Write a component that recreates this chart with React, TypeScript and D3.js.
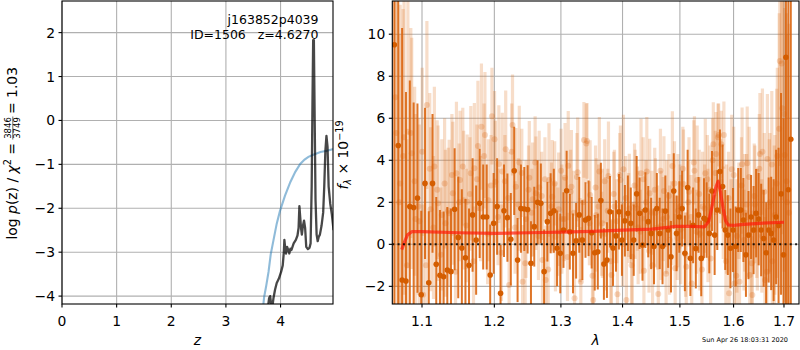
import React from "react";
import * as d3 from "d3";

// ---------- Left panel data: log p(z) ----------
const zBlue = [3.68, 3.70, 3.74, 3.78, 3.82, 3.87, 3.93, 3.99, 4.08, 4.18, 4.27, 4.36, 4.44, 4.51, 4.60, 4.73, 4.85, 4.97];
const pBlue = [-4.25, -4.02, -3.75, -3.45, -3.05, -2.73, -2.35, -2.06, -1.72, -1.40, -1.17, -0.99, -0.89, -0.83, -0.78, -0.72, -0.69, -0.65];

const zBlack = [3.77, 3.79, 3.81, 3.83, 3.85, 3.87, 3.90, 3.93, 3.97, 4.01, 4.04, 4.06, 4.07, 4.085, 4.10, 4.12, 4.14, 4.16, 4.18, 4.20, 4.24, 4.28, 4.31, 4.33, 4.345, 4.36, 4.375, 4.39, 4.41, 4.43, 4.45, 4.47, 4.50, 4.53, 4.55, 4.57, 4.585, 4.597, 4.61, 4.625, 4.64, 4.66, 4.68, 4.70, 4.72, 4.75, 4.78, 4.80, 4.82, 4.84, 4.86, 4.88, 4.91, 4.94, 4.97];
const pBlack = [-4.25, -4.05, -4.0, -4.2, -4.25, -4.05, -3.85, -3.7, -3.6, -3.45, -3.3, -3.0, -2.72, -2.9, -3.03, -2.88, -2.95, -3.03, -2.92, -2.95, -2.8, -2.72, -2.62, -2.45, -1.95, -2.2, -2.45, -2.6, -2.4, -2.28, -2.45, -2.88, -2.93, -2.9, -2.8, -1.5, 0.5, 1.83, 1.83, 0.0, -1.8, -2.6, -2.75, -2.65, -2.6, -2.4, -2.1, -1.5, -0.7, -0.35, -0.6, -1.5, -1.9, -2.15, -2.5];

const zTicks = [0, 1, 2, 3, 4];
const pTicks = [-4, -3, -2, -1, 0, 1, 2];

// ---------- Right panel data: spectrum ----------
const gridStep = 0.005;

const darkStart = 1.064;
const darkFlux = [
  9.5, 4.7, -1.7, -1.75, 1.8, 1.75, 2.2, -2.4, 2.9, -1.83,
  2.9, -0.95, -1.47, -1.54, -1.22, -1.3, 1.67, 0.33, -0.18, -0.64,
  -1.0, 1.4, 0.2, 1.95, 1.3, 1.3, -1.46, 1.0, 1.8, -2.33,
  1.6, 1.27, 0.24, 3.5, -0.75, 1.7, 1.68, 1.66, -0.9, 0.84,
  2.0, 1.95, -1.3, 1.08, 1.48, 1.6, -0.19, -0.43, 0.68, 2.55,
  0.6, -0.43, 0.17, 1.4, 0.2, 1.16, 1.24, 0.55, -0.4, -0.35,
  2.08, -0.94, -0.75, 1.55, -0.18, 0.4, 1.55, 0.2, 1.12, 1.48,
  1.0, 0.2, 2.4, 1.48, -0.03, 1.63, 1.08, 0.52, -0.1, 1.7,
  0.52, -0.1, 1.58, 0.68, -0.59, 2.54, 0.52, 1.3, 1.7, -0.43,
  2.7, -0.66, 0.9, -0.2, 1.4, -0.67, 1.24, 1.16, 0.52, 2.54,
  0.44, 1.63, 3.46, 2.75, 0.68, 0.44, -0.19, 0.68, -0.1, 1.63,
  1.63, 1.16, -0.5, 0.44, 1.3, 0.68, 1.48, 1.2, 0.68, 0.28,
  -0.4, 0.68, 0.52, 0.2, 1.3, 0.9, 2.4, -0.5, 8.9, 2.6, 5.0
];
const darkErr = [
  15, 14, 12, 9, 6, 5, 4.5, 4, 3.6, 3.4,
  3.3, 3.2, 3.1, 3.1, 3.0, 3.0, 2.9, 2.9, 2.8, 2.8,
  2.7, 2.7, 2.6, 2.6, 2.5, 2.5, 2.4, 2.4, 2.3, 2.3,
  2.2, 2.1, 2.2, 2.1, 2.0, 2.1, 2.0, 2.1, 2.0, 1.9,
  2.0, 1.9, 2.0, 1.9, 1.9, 2.0, 1.8, 1.9, 1.8, 1.9,
  1.8, 1.9, 1.8, 1.8, 1.9, 1.8, 1.8, 1.7, 1.8, 1.8,
  1.8, 1.7, 1.8, 1.7, 1.8, 1.7, 1.8, 1.7, 1.7, 1.8,
  1.7, 1.7, 1.8, 1.7, 1.7, 1.8, 1.7, 1.7, 1.8, 1.7,
  1.7, 1.8, 1.7, 1.8, 1.7, 1.8, 1.8, 1.7, 1.8, 1.8,
  1.8, 1.8, 1.8, 1.9, 1.8, 1.8, 1.9, 1.8, 1.9, 1.9,
  1.9, 1.9, 2.0, 2.0, 1.9, 1.9, 1.9, 2.0, 1.9, 2.0,
  2.0, 2.0, 2.0, 2.1, 2.0, 2.1, 2.1, 2.2, 2.2, 2.3,
  2.4, 2.5, 2.7, 2.9, 3.2, 3.7, 4.8, 6.5, 14, 14, 15
];

const lightAStart = 1.0665;
const lightAFlux = [
  5.3, 2.9, 5.1, 5.36, 4.33, 1.2, 1.1, -2.4, 6.63, 1.67,
  3.7, 1.95, 1.4, 1.0, 1.48, 2.43, 3.38, 3.06, 2.1, 2.03,
  3.38, 3.62, 4.68, 5.6, 5.2, 2.1, 6.1, 2.98, 3.82, 3.46,
  4.52, -1.94, 5.68, 2.74, 3.89, -1.78, 1.2, 3.17, 2.14, 2.43,
  2.71, -0.75, -1.7, 3.06, 2.27, 0.36, 1.67, 1.2, 3.17, 3.74,
  2.74, -2.57, 3.43, -1.78, 4.97, 4.92, 2.35, -2.65, 1.4, 3.46,
  1.0, 0.5, 3.25, -1.46, 1.8, -2.38, 3.06, 3.57, -2.65, 1.71,
  -0.59, 1.9, 0.8, 3.38, -1.26, 3.46, 2.43, -0.99, 1.5, -2.37,
  0.9, 2.54, 1.3, 0.2, 3.73, -1.14, 1.6, 0.7, 2.87, -1.07,
  2.5, -1.86, 3.5, 3.06, 0.5, 1.8, 3.38, 0.9, -0.67, 4.76,
  4.3, 5.2, 4.76, 5.2, 1.2, -2.33, 3.57, -1.86, 0.4, -1.78,
  3.81, 1.5, 3.86, -1.46, -2.41, 1.9, 0.7, 4.3, 4.41, -1.7,
  4.06, 2.0, -0.8, 1.4, 4.2, 8.73, 6.48, 4.25, 2.0
];
const lightAErr = [
  9, 8.5, 7.5, 6.5, 5.5, 5, 4.6, 4.3, 4.0, 3.9,
  3.8, 3.7, 3.6, 3.5, 3.5, 3.4, 3.4, 3.3, 3.3, 3.2,
  3.2, 3.1, 3.1, 3.0, 3.0, 2.9, 2.3, 2.9, 2.8, 2.8,
  2.8, 2.7, 2.4, 2.8, 2.7, 2.7, 2.8, 2.7, 2.7, 2.7,
  2.7, 2.7, 2.6, 2.7, 2.7, 2.6, 2.7, 2.6, 2.6, 2.6,
  2.7, 2.6, 2.6, 2.6, 1.8, 1.8, 2.6, 2.6, 2.7, 2.6,
  2.6, 2.7, 2.6, 2.6, 2.7, 2.6, 2.6, 2.6, 2.7, 2.6,
  2.6, 2.6, 2.7, 2.6, 2.6, 2.6, 2.6, 2.7, 2.6, 2.6,
  2.6, 2.6, 2.7, 2.6, 2.6, 2.6, 2.7, 2.6, 2.6, 2.6,
  2.6, 2.7, 2.6, 2.6, 2.7, 2.6, 2.6, 2.7, 2.6, 2.0,
  2.0, 1.5, 1.6, 1.6, 2.6, 2.7, 2.6, 2.7, 2.7, 2.7,
  2.7, 2.8, 2.7, 2.8, 2.8, 2.8, 2.9, 2.9, 3.0, 3.0,
  3.1, 3.3, 3.5, 3.8, 4.2, 5.0, 6.0, 7.0, 8.0
];

const lightBStart = 1.0653;
const lightBFlux = [
  7.0, 2.0, 4.2, -1.0, 5.3, 3.0, 1.8, 4.4, -1.0, 3.6,
  0.8, 2.6, -0.5, 2.9, 1.6, 3.3, -1.3, 2.0, 3.7, 0.9,
  2.4, -0.8, 3.1, 1.7, 4.2, 0.5, 2.8, 5.0, 1.3, -0.4,
  3.0, 2.2, 4.4, 0.8, 1.9, 3.4, -0.9, 2.6, 1.5, 3.9,
  0.4, 2.3, 3.1, -1.2, 1.8, 2.9, 0.6, 3.5, 1.2, -0.6,
  2.5, 1.5, 3.2, 0.2, 2.0, 4.8, 1.0, -1.5, 2.7, 1.8,
  0.5, 3.0, 1.6, -0.8, 2.4, 1.1, 3.3, 0.0, 2.2, 1.4,
  -1.0, 2.8, 1.7, 0.6, 3.1, 2.0, -0.3, 1.5, 2.6, 0.8,
  3.5, 1.2, -1.4, 2.3, 1.0, 2.9, 0.3, 1.8, 3.6, -0.5,
  2.0, 1.3, 3.9, 0.6, 2.4, -1.2, 1.7, 3.1, 2.6, 4.0,
  3.4, 5.1, 3.0, 1.5, -0.8, 2.2, 0.9, 3.3, -1.5, 1.6,
  2.8, 0.2, 1.9, 3.2, -0.9, 2.3, 1.0, 3.6, 0.4, 2.5,
  -1.3, 1.8, 3.8, 0.7, 2.9, 5.5, 8.6, 6.2, 3.0, 1.5
];
const lightBErr = [
  9, 8, 7, 6, 5, 4.5, 4.2, 4.0, 3.8, 3.6,
  3.4, 3.3, 3.2, 3.1, 3.0, 2.9, 2.9, 2.8, 2.8, 2.7,
  2.7, 2.6, 2.6, 2.5, 2.5, 2.4, 2.4, 2.3, 2.3, 2.3,
  2.2, 2.2, 2.3, 2.2, 2.2, 2.1, 2.2, 2.1, 2.1, 2.2,
  2.1, 2.1, 2.0, 2.1, 2.1, 2.0, 2.1, 2.0, 2.0, 2.1,
  2.0, 2.0, 2.1, 2.0, 2.0, 1.9, 2.0, 2.0, 2.0, 2.0,
  2.0, 2.0, 2.0, 2.0, 2.0, 2.0, 2.0, 2.0, 2.0, 2.0,
  2.0, 2.0, 2.0, 2.0, 2.0, 2.0, 2.0, 2.0, 2.0, 2.0,
  2.0, 2.0, 2.0, 2.0, 2.0, 2.0, 2.0, 2.0, 2.0, 2.0,
  2.0, 2.0, 2.0, 2.0, 2.1, 2.1, 2.1, 2.1, 2.1, 2.0,
  2.0, 1.6, 2.0, 2.2, 2.2, 2.2, 2.2, 2.3, 2.3, 2.3,
  2.3, 2.4, 2.4, 2.4, 2.5, 2.5, 2.6, 2.6, 2.7, 2.8,
  3.0, 3.2, 3.5, 4.0, 4.5, 5.5, 6.5, 7.5, 8.0, 9.0
];

const modelWave = [1.0735, 1.077, 1.081, 1.0866, 1.10, 1.15, 1.20, 1.25, 1.30, 1.35, 1.40, 1.45, 1.47, 1.49, 1.52, 1.545, 1.553, 1.56, 1.566, 1.5705, 1.575, 1.58, 1.585, 1.59, 1.60, 1.62, 1.65, 1.70];
const modelFlux = [-0.25, 0.1, 0.45, 0.6, 0.6, 0.55, 0.52, 0.55, 0.58, 0.62, 0.68, 0.72, 0.78, 0.85, 0.85, 0.83, 1.1, 1.9, 2.7, 3.0, 2.5, 1.7, 1.1, 0.92, 0.9, 0.95, 1.0, 1.05];

const waveTicks = [1.1, 1.2, 1.3, 1.4, 1.5, 1.6, 1.7];
const fluxTicks = [-2, 0, 2, 4, 6, 8, 10];

const FONT = "DejaVu Sans, sans-serif";
const ORANGE = "#d9620a";
const GRID = "#b0b0b0";

function fmtMinus(v: number): string {
  return String(v).replace("-", "\u2212");
}

type Pt = { w: number; f: number; e: number };
function toPts(start: number, flux: number[], err: number[]): Pt[] {
  return flux.map((f, i) => ({ w: start + gridStep * i, f, e: err[i] }));
}

export default function App() {
  // left axes
  const L = { x0: 62, x1: 333, y0: 1, y1: 304 };
  const xZ = d3.scaleLinear().domain([0, 4.96]).range([L.x0, L.x1]);
  const yZ = d3.scaleLinear().domain([-4.18, 2.72]).range([L.y1, L.y0]);
  // right axes
  const R = { x0: 392.3, x1: 799, y0: 1, y1: 304 };
  const xW = d3.scaleLog().domain([1.0614, 1.731]).range([R.x0, R.x1]);
  const yF = d3.scaleLinear().domain([-2.84, 11.58]).range([R.y1, R.y0]);

  const lineZ = d3.line<[number, number]>().x((d) => xZ(d[0])).y((d) => yZ(d[1]));
  const blueD = lineZ(zBlue.map((z, i) => [z, pBlue[i]] as [number, number])) || "";
  const blackD = lineZ(zBlack.map((z, i) => [z, pBlack[i]] as [number, number])) || "";

  const lineW = d3.line<[number, number]>().x((d) => xW(d[0])).y((d) => yF(d[1]));
  const modelD = lineW(modelWave.map((w, i) => [w, modelFlux[i]] as [number, number])) || "";

  const dark = toPts(darkStart, darkFlux, darkErr);
  const light = [...toPts(lightAStart, lightAFlux, lightAErr), ...toPts(lightBStart, lightBFlux, lightBErr)];

  const tickFs = 13.9;

  return (
    <svg width={800} height={350} style={{ position: "absolute", left: 0, top: 0, background: "#fff" }} fontFamily={FONT}>
      <defs>
        <clipPath id="clipL"><rect x={L.x0} y={L.y0} width={L.x1 - L.x0} height={L.y1 - L.y0} /></clipPath>
        <clipPath id="clipR"><rect x={R.x0} y={R.y0} width={R.x1 - R.x0} height={R.y1 - R.y0} /></clipPath>
      </defs>
      <rect x={0} y={0} width={800} height={350} fill="#fff" />

      {/* ---------------- LEFT PANEL ---------------- */}
      <g>
        {zTicks.map((t) => (
          <line key={"gzx" + t} x1={xZ(t)} x2={xZ(t)} y1={L.y0} y2={L.y1} stroke={GRID} strokeWidth={1.1} />
        ))}
        {pTicks.map((t) => (
          <line key={"gzy" + t} x1={L.x0} x2={L.x1} y1={yZ(t)} y2={yZ(t)} stroke={GRID} strokeWidth={1.1} />
        ))}
        <g clipPath="url(#clipL)">
          <path d={blueD} fill="none" stroke="#1f77b4" strokeOpacity={0.5} strokeWidth={2.1} />
          <path d={blackD} fill="none" stroke="#000" strokeOpacity={0.72} strokeWidth={2.3} strokeLinejoin="round" />
        </g>
        <text x={318.5} y={24} fontSize={12.5} textAnchor="end">j163852p4039</text>
        <text x={318.5} y={39} fontSize={12.5} textAnchor="end" style={{ whiteSpace: "pre" }}>{"ID=1506   z=4.6270"}</text>
        <rect x={L.x0} y={L.y0} width={L.x1 - L.x0} height={L.y1 - L.y0} fill="none" stroke="#000" strokeWidth={1.1} />
        {zTicks.map((t) => (
          <g key={"tzx" + t}>
            <line x1={xZ(t)} x2={xZ(t)} y1={L.y1} y2={L.y1 + 3.5} stroke="#000" strokeWidth={1.1} />
            <text x={xZ(t)} y={326} fontSize={tickFs} textAnchor="middle">{fmtMinus(t)}</text>
          </g>
        ))}
        {pTicks.map((t) => (
          <g key={"tzy" + t}>
            <line x1={L.x0 - 3.5} x2={L.x0} y1={yZ(t)} y2={yZ(t)} stroke="#000" strokeWidth={1.1} />
            <text x={L.x0 - 7} y={yZ(t) + 5} fontSize={tickFs} textAnchor="end">{fmtMinus(t)}</text>
          </g>
        ))}
        <text x={(L.x0 + L.x1) / 2} y={345} fontSize={tickFs} fontStyle="italic" textAnchor="middle">z</text>
        <g transform="translate(16.7,153) rotate(-90)">
          <text x={10} y={0} fontSize={tickFs} textAnchor="end">
            <tspan>log </tspan>
            <tspan fontStyle="italic">p</tspan>
            <tspan>(z) / </tspan>
            <tspan fontStyle="italic">χ</tspan>
            <tspan fontSize={9.7} dy={-5.5}>2</tspan>
            <tspan dy={5.5}> =</tspan>
          </text>
          <text x={25} y={-5.3} fontSize={8.5} textAnchor="middle">3846</text>
          <line x1={13.5} x2={36.5} y1={-3.9} y2={-3.9} stroke="#000" strokeWidth={0.6} />
          <text x={25} y={3.2} fontSize={8.5} textAnchor="middle">3749</text>
          <text x={39} y={0} fontSize={tickFs} textAnchor="start">= 1.03</text>
        </g>
      </g>

      {/* ---------------- RIGHT PANEL ---------------- */}
      <g>
        {waveTicks.map((t) => (
          <line key={"gwx" + t} x1={xW(t)} x2={xW(t)} y1={R.y0} y2={R.y1} stroke={GRID} strokeWidth={1.1} />
        ))}
        {fluxTicks.map((t) => (
          <line key={"gwy" + t} x1={R.x0} x2={R.x1} y1={yF(t)} y2={yF(t)} stroke={GRID} strokeWidth={1.1} />
        ))}
        <g clipPath="url(#clipR)">
          {light.map((d, i) => (
            <line key={"le" + i} x1={xW(d.w)} x2={xW(d.w)} y1={yF(d.f - d.e)} y2={yF(d.f + d.e)} stroke={ORANGE} strokeOpacity={0.22} strokeWidth={3.2} />
          ))}
          {light.map((d, i) => (
            <circle key={"lp" + i} cx={xW(d.w)} cy={yF(d.f)} r={3} fill={ORANGE} fillOpacity={0.24} />
          ))}
          {dark.map((d, i) => (
            <line key={"de" + i} x1={xW(d.w)} x2={xW(d.w)} y1={yF(d.f - d.e)} y2={yF(d.f + d.e)} stroke={ORANGE} strokeOpacity={0.88} strokeWidth={2} />
          ))}
          {dark.map((d, i) => (
            <circle key={"dp" + i} cx={xW(d.w)} cy={yF(d.f)} r={2.8} fill="#d45d00" />
          ))}
          <path d={modelD} fill="none" stroke="#ff1a0a" strokeOpacity={0.7} strokeWidth={3.2} strokeLinejoin="round" />
          <line x1={R.x0} x2={R.x1} y1={yF(0)} y2={yF(0)} stroke="#000" strokeWidth={2} strokeDasharray="2,3.3" strokeOpacity={0.85} />
        </g>
        <rect x={R.x0} y={R.y0} width={R.x1 - R.x0} height={R.y1 - R.y0} fill="none" stroke="#000" strokeWidth={1.1} />
        {waveTicks.map((t) => (
          <g key={"twx" + t}>
            <line x1={xW(t)} x2={xW(t)} y1={R.y1} y2={R.y1 + 3.5} stroke="#000" strokeWidth={1.1} />
            <text x={xW(t)} y={326} fontSize={tickFs} textAnchor="middle">{t.toFixed(1)}</text>
          </g>
        ))}
        {fluxTicks.map((t) => (
          <g key={"twy" + t}>
            <line x1={R.x0 - 3.5} x2={R.x0} y1={yF(t)} y2={yF(t)} stroke="#000" strokeWidth={1.1} />
            <text x={R.x0 - 7} y={yF(t) + 5} fontSize={tickFs} textAnchor="end">{fmtMinus(t)}</text>
          </g>
        ))}
        <text x={(R.x0 + R.x1) / 2} y={345} fontSize={tickFs} fontStyle="italic" textAnchor="middle">λ</text>
        <g transform="translate(348.3,155) rotate(-90)">
          <text x={0} y={0} fontSize={tickFs} textAnchor="middle">
            <tspan fontStyle="italic">f</tspan>
            <tspan fontSize={9.7} fontStyle="italic" dy={2.5}>λ</tspan>
            <tspan dy={-2.5}> × 10</tspan>
            <tspan fontSize={9.7} dy={-5.5}>−19</tspan>
          </text>
        </g>
        <text x={788} y={342} fontSize={6.5} textAnchor="end">Sun Apr 26 18:03:31 2020</text>
      </g>
    </svg>
  );
}
